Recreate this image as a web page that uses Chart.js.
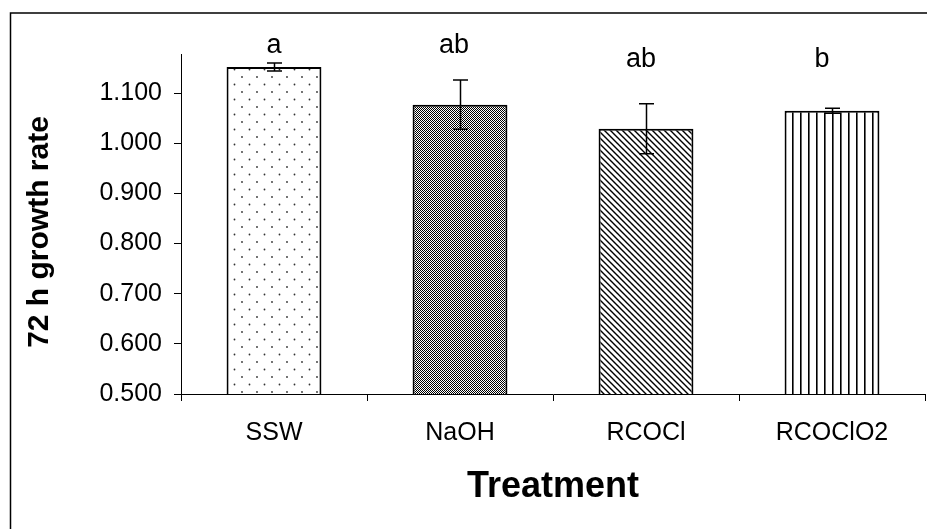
<!DOCTYPE html>
<html>
<head>
<meta charset="utf-8">
<script src="https://cdn.jsdelivr.net/npm/chart.js@4.4.1/dist/chart.umd.min.js"></script>
<style>
  html, body { margin: 0; padding: 0; background: #fff; }
  #wrap { width: 927px; height: 529px; position: relative; }
</style>
</head>
<body>
<div id="wrap"><canvas id="c" width="927" height="529"></canvas></div>
<script>
const categories = ['SSW', 'NaOH', 'RCOCl', 'RCOClO2'];
const growthRate = [1.152, 1.077, 1.029, 1.065];
const errors = [0.008, 0.049, 0.050, 0.005];
const letters = ['a', 'ab', 'ab', 'b'];
const yTicks = [0.5, 0.6, 0.7, 0.8, 0.9, 1.0, 1.1];
const yTitle = '72 h growth rate';
const xTitle = 'Treatment';

const FONT = "'Liberation Sans', Arial, sans-serif";

function makePattern(kind) {
  const c = document.createElement('canvas');
  const ctx = c.getContext('2d');
  if (kind === 'dots') {
    c.width = 15; c.height = 15;
    ctx.fillStyle = '#fff'; ctx.fillRect(0, 0, 15, 15);
    ctx.fillStyle = '#333';
    ctx.beginPath(); ctx.arc(2, 2, 0.9, 0, Math.PI * 2); ctx.fill();
    ctx.beginPath(); ctx.arc(9.5, 9.5, 0.9, 0, Math.PI * 2); ctx.fill();
  } else if (kind === 'checker') {
    c.width = 2; c.height = 2;
    ctx.fillStyle = '#fff'; ctx.fillRect(0, 0, 2, 2);
    ctx.fillStyle = '#000';
    ctx.fillRect(0, 0, 1, 1); ctx.fillRect(1, 1, 1, 1);
  } else if (kind === 'diag') {
    const s = 6;
    c.width = s; c.height = s;
    ctx.fillStyle = '#fff'; ctx.fillRect(0, 0, s, s);
    ctx.strokeStyle = '#000'; ctx.lineWidth = 1.4;
    ctx.beginPath();
    ctx.moveTo(-1, -1); ctx.lineTo(s + 1, s + 1);
    ctx.moveTo(-1, s - 1); ctx.lineTo(1, s + 1);
    ctx.moveTo(s - 1, -1); ctx.lineTo(s + 1, 1);
    ctx.stroke();
  } else if (kind === 'vert') {
    c.width = 8; c.height = 8;
    ctx.fillStyle = '#fff'; ctx.fillRect(0, 0, 8, 8);
    ctx.fillStyle = '#000'; ctx.fillRect(0, 0, 1, 8);
    ctx.fillStyle = '#666'; ctx.fillRect(1, 0, 1, 8);
  }
  return document.getElementById('c').getContext('2d').createPattern(c, 'repeat');
}

const fills = [makePattern('dots'), makePattern('checker'), makePattern('diag'), makePattern('vert')];

const decorPlugin = {
  id: 'decor',
  beforeDraw(chart) {
    const ctx = chart.ctx;
    ctx.save();
    ctx.fillStyle = '#fff';
    ctx.fillRect(0, 0, chart.width, chart.height);
    ctx.restore();
  },
  afterDraw(chart, args, opts) {
    const ctx = chart.ctx;
    const ys = chart.scales.y;
    const area = chart.chartArea;
    ctx.save();
    // outer frame (left and top edges visible)
    ctx.strokeStyle = '#000';
    ctx.lineWidth = 1.5;
    ctx.beginPath();
    ctx.moveTo(10.5, chart.height + 2);
    ctx.lineTo(10.5, 13);
    ctx.lineTo(chart.width + 2, 13);
    ctx.stroke();

    // error bars
    ctx.lineWidth = 1.5;
    ctx.strokeStyle = '#000';
    const meta = chart.getDatasetMeta(0);
    growthRate.forEach((v, i) => {
      const x = Math.round(meta.data[i].x) + 0.5;
      const yt = ys.getPixelForValue(v + errors[i]);
      const yb = ys.getPixelForValue(v - errors[i]);
      ctx.beginPath();
      ctx.moveTo(x, yt); ctx.lineTo(x, yb);
      ctx.moveTo(x - 7.5, yt); ctx.lineTo(x + 7.5, yt);
      ctx.moveTo(x - 7.5, yb); ctx.lineTo(x + 7.5, yb);
      ctx.stroke();
    });

    // significance letters
    ctx.fillStyle = '#000';
    ctx.font = '27px ' + FONT;
    ctx.textAlign = 'center';
    ctx.textBaseline = 'alphabetic';
    letters.forEach((t, i) => {
      const x = meta.data[i].x + opts.letterDx[i];
      const y = area.top + opts.letterDy[i];
      ctx.fillText(t, x, y);
    });

    // axis titles
    ctx.font = 'bold 30px ' + FONT;
    ctx.textBaseline = 'middle';
    ctx.save();
    ctx.translate(40, 232);
    ctx.rotate(-Math.PI / 2);
    ctx.fillText(yTitle, 0, 0);
    ctx.restore();

    ctx.font = 'bold 36px ' + FONT;
    ctx.fillText(xTitle, (area.left + area.right) / 2, 487);
    ctx.restore();
  }
};

new Chart(document.getElementById('c'), {
  type: 'bar',
  data: {
    labels: categories,
    datasets: [{
      data: growthRate,
      backgroundColor: fills,
      borderColor: '#000',
      borderWidth: 2,
      borderSkipped: false,
      categoryPercentage: 1.0,
      barPercentage: 0.51
    }]
  },
  plugins: [decorPlugin],
  options: {
    responsive: false,
    animation: false,
    devicePixelRatio: 1,
    layout: { padding: { top: 54, right: 2, left: 0, bottom: 0 } },
    plugins: {
      legend: { display: false },
      tooltip: { enabled: false },
      decor: { letterDx: [0, -6, -5, -10], letterDy: [-1, -1, 13, 13] }
    },
    scales: {
      x: {
        offset: true,
        grid: { offset: true, drawOnChartArea: false, drawTicks: true, tickLength: 7, color: '#000' },
        border: { color: '#000', width: 1 },
        ticks: { color: '#000', font: { family: FONT, size: 25 }, padding: 17, maxRotation: 0 },
        afterFit(s) { s.height = 135; }
      },
      y: {
        min: 0.5,
        max: 1.178,
        grid: { drawOnChartArea: false, drawTicks: true, tickLength: 7, color: '#000' },
        border: { color: '#000', width: 1 },
        afterBuildTicks(s) { s.ticks = yTicks.map(v => ({ value: v })); },
        ticks: {
          color: '#000',
          font: { family: FONT, size: 25 },
          padding: 12,
          callback: v => Number(v).toFixed(3)
        },
        afterFit(s) { s.width = 181; }
      }
    }
  }
});
</script>
</body>
</html>
